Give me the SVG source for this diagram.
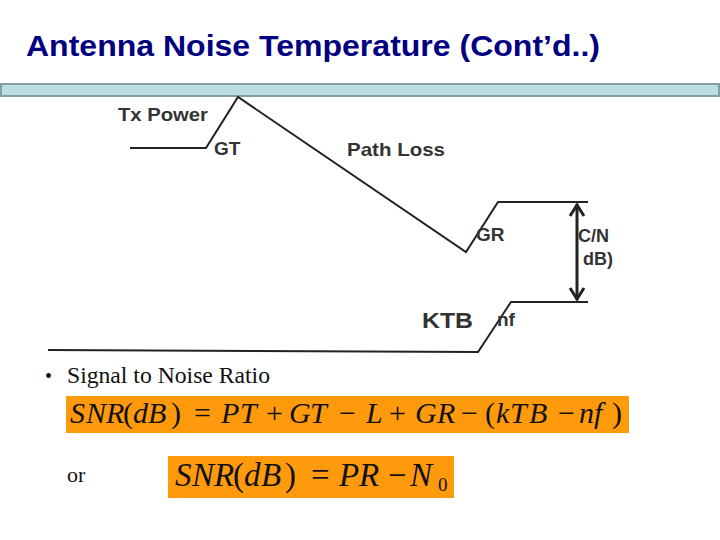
<svg xmlns="http://www.w3.org/2000/svg" width="720" height="540" viewBox="0 0 720 540">
<style>
.lbl{font-family:"Liberation Sans",Arial,sans-serif;font-weight:bold;fill:#333333;}
.ln{fill:none;stroke:#222222;stroke-width:2;stroke-linejoin:miter;}
.mth{font-family:"Liberation Serif","Times New Roman",serif;fill:#111111;}
.it{font-style:italic;}
.box{fill:#ff9a0c;}
</style>
<rect width="720" height="540" fill="#ffffff"/>
<g id="title">
<text x="26" y="56" font-family="Liberation Sans, Arial, sans-serif" font-weight="bold" font-size="30" fill="#000080" textLength="574" lengthAdjust="spacingAndGlyphs">Antenna Noise Temperature (Cont’d..)</text>
</g>
<g id="bar">
<rect x="1" y="84" width="718" height="12" fill="#b9dfe2" stroke="#879ea0" stroke-width="2"/>
</g>
<g id="connectors">
<polyline class="ln" points="130,148 206,148 238,97 466,252 498,202 588,202"/>
<polyline class="ln" points="48,350 478,352 511,302 588,302"/>
<line x1="577" y1="204" x2="577" y2="300" stroke="#222222" stroke-width="3"/>
<polyline points="570,216 577,205 584,216" fill="none" stroke="#222222" stroke-width="3"/>
<polyline points="570,288 577,299 584,288" fill="none" stroke="#222222" stroke-width="3"/>
</g>
<g id="node-txpower"><text class="lbl" x="118" y="121" font-size="19" textLength="90" lengthAdjust="spacingAndGlyphs">Tx Power</text></g>
<g id="node-gt"><text class="lbl" x="214" y="155" font-size="19">GT</text></g>
<g id="node-pathloss"><text class="lbl" x="347" y="156" font-size="19" textLength="98" lengthAdjust="spacingAndGlyphs">Path Loss</text></g>
<g id="node-gr"><text class="lbl" x="476" y="241" font-size="19">GR</text></g>
<g id="node-cn"><text class="lbl" x="578" y="242" font-size="18">C/N</text><text class="lbl" x="583" y="265" font-size="18">dB)</text></g>
<g id="node-ktb"><text class="lbl" x="422" y="328" font-size="22" textLength="51" lengthAdjust="spacingAndGlyphs">KTB</text></g>
<g id="node-nf"><text class="lbl" x="497" y="326" font-size="19">nf</text></g>
<g id="bullet">
<text class="mth" x="45" y="383" font-size="20">•</text>
<text class="mth" x="67" y="383" font-size="23" textLength="203" lengthAdjust="spacingAndGlyphs">Signal to Noise Ratio</text>
</g>
<g id="formula1">
<rect class="box" x="66" y="396" width="563" height="37"/>
<text class="mth" y="423" font-size="30"><tspan class="it" x="70">S</tspan><tspan class="it" x="86">N</tspan><tspan class="it" x="106">R</tspan><tspan x="123">(</tspan><tspan class="it" x="133">d</tspan><tspan class="it" x="148">B</tspan><tspan x="171">)</tspan><tspan x="194">=</tspan><tspan class="it" x="221">P</tspan><tspan class="it" x="240">T</tspan><tspan x="266">+</tspan><tspan class="it" x="289">G</tspan><tspan class="it" x="310">T</tspan><tspan x="339">−</tspan><tspan class="it" x="366">L</tspan><tspan x="389">+</tspan><tspan class="it" x="415">G</tspan><tspan class="it" x="437">R</tspan><tspan x="461">−</tspan><tspan x="485">(</tspan><tspan class="it" x="496">k</tspan><tspan class="it" x="510">T</tspan><tspan class="it" x="529">B</tspan><tspan x="558">−</tspan><tspan class="it" x="579">n</tspan><tspan class="it" x="594">f</tspan><tspan x="612">)</tspan></text>
</g>
<g id="or-label"><text class="mth" x="67" y="482" font-size="22">or</text></g>
<g id="formula2">
<rect class="box" x="168" y="456" width="286" height="42"/>
<text class="mth" y="486" font-size="33"><tspan class="it" x="175">S</tspan><tspan class="it" x="192">N</tspan><tspan class="it" x="214">R</tspan><tspan x="233">(</tspan><tspan class="it" x="244">d</tspan><tspan class="it" x="261">B</tspan><tspan x="285">)</tspan><tspan x="311">=</tspan><tspan class="it" x="339">P</tspan><tspan class="it" x="359">R</tspan><tspan x="388">−</tspan><tspan class="it" x="410">N</tspan><tspan x="438" y="491" font-size="19">0</tspan></text>
</g>
</svg>
